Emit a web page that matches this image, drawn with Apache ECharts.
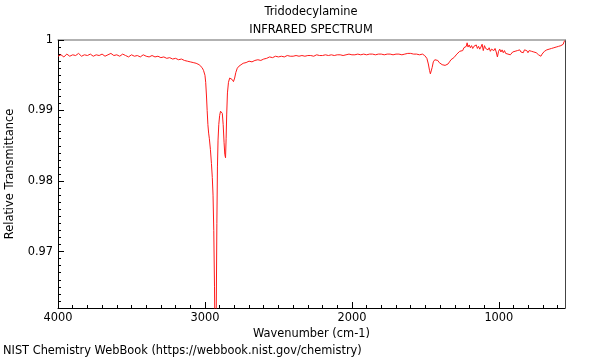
<!DOCTYPE html>
<html>
<head>
<meta charset="utf-8">
<script src="https://cdn.jsdelivr.net/npm/echarts@6/dist/echarts.min.js"></script>
<style>html,body{margin:0;padding:0;background:#fff;}#c{width:600px;height:360px;}</style>
</head>
<body>
<div id="c"></div>
<script>
// Wavenumbers (cm-1) and relative transmittance
var wavenumbers = [
4000,3980,3960,3940,3920,3900,3880,3860,3840,3820,3800,3780,3760,3740,3720,3700,3680,3660,3640,3620,
3600,3580,3560,3540,3520,3500,3480,3460,3440,3420,3400,3380,3360,3340,3320,3300,3280,3260,3240,3220,
3200,3180,3160,3140,3120,3100,3080,3060,3040,3030,3020,3010,3000,2995,2990,2985,2980,2975,2970,2963,
2956,2950,2945,2940,2935,2931,2927,2923,2919,2915,2911,2906,2900,2894,2888,2882,2876,2870,2865,2860,
2856,2852,2847,2840,2832,2824,2815,2806,2798,2790,2780,2768,2755,2740,2720,2700,2680,2660,2640,2620,
2600,2580,2560,2540,2520,2500,2480,2460,2440,2420,2400,2380,2360,2340,2320,2300,2280,2260,2240,2220,
2200,2180,2160,2140,2120,2100,2080,2060,2040,2020,2000,1980,1960,1940,1920,1900,1880,1860,1840,1820,
1800,1780,1760,1740,1720,1700,1680,1660,1640,1620,1600,1580,1560,1540,1520,1505,1490,1480,1472,1466,
1460,1454,1446,1436,1426,1416,1406,1396,1386,1376,1366,1356,1346,1336,1326,1316,1306,1296,1286,1276,
1266,1256,1246,1238,1230,1222,1216,1210,1202,1194,1186,1178,1170,1162,1154,1146,1138,1130,1122,1114,
1106,1098,1090,1082,1074,1066,1058,1050,1042,1034,1026,1018,1010,1002,994,986,978,970,962,954,
946,938,930,922,914,906,898,890,882,874,866,858,850,842,834,826,818,810,802,794,
786,778,770,762,754,746,738,730,722,714,706,698,690,682,674,666,658,650,642,634,
626,618,610,602,594,586,578,570,562,556,550
];
var transmittance = [
0.9977,0.9979,0.9976,0.9980,0.9977,0.9979,0.9978,0.9981,0.9977,0.9979,0.9978,0.9980,0.9977,0.9979,0.9978,0.9980,0.9977,0.9979,0.9981,0.9978,
0.9979,0.9977,0.9980,0.9978,0.9976,0.9979,0.9977,0.9978,0.9976,0.9979,0.9977,0.9976,0.9978,0.9976,0.9977,0.9975,0.9976,0.9974,0.9975,0.9973,
0.9974,0.9972,0.9973,0.9971,0.9970,0.9969,0.9968,0.9967,0.9965,0.9963,0.9961,0.9957,0.9950,0.9940,0.9922,0.9900,0.9880,0.9868,0.9860,0.9845,
0.9825,0.9805,0.9780,0.9730,0.9650,0.9560,0.9540,0.9620,0.9740,0.9820,0.9858,0.9880,0.9893,0.9899,0.9901,0.9896,0.9880,0.9855,0.9838,0.9833,
0.9860,0.9895,0.9925,0.9940,0.9946,0.9947,0.9944,0.9941,0.9946,0.9954,0.9960,0.9963,0.9965,0.9967,0.9968,0.9970,0.9969,0.9971,0.9972,0.9971,
0.9973,0.9974,0.9976,0.9975,0.9977,0.9976,0.9977,0.9976,0.9978,0.9977,0.9977,0.9978,0.9977,0.9978,0.9977,0.9978,0.9978,0.9977,0.9979,0.9978,
0.9978,0.9979,0.9978,0.9979,0.9978,0.9979,0.9979,0.9978,0.9979,0.9980,0.9979,0.9979,0.9980,0.9979,0.9980,0.9979,0.9980,0.9980,0.9979,0.9980,
0.9980,0.9979,0.9980,0.9980,0.9979,0.9980,0.9980,0.9979,0.9980,0.9981,0.9981,0.9980,0.9980,0.9979,0.9980,0.9978,0.9974,0.9966,0.9957,0.9952,
0.9953,0.9961,0.9969,0.9972,0.9973,0.9971,0.9968,0.9966,0.9965,0.9964,0.9964,0.9963,0.9966,0.9969,0.9972,0.9973,0.9975,0.9977,0.9980,0.9982,
0.9984,0.9986,0.9985,0.9989,0.9987,0.9991,0.9996,0.9990,0.9993,0.9989,0.9992,0.9988,0.9991,0.9989,0.9993,0.9988,0.9991,0.9987,0.9990,0.9994,
0.9985,0.9992,0.9988,0.9990,0.9986,0.9989,0.9984,0.9987,0.9989,0.9985,0.9988,0.9983,0.9976,0.9984,0.9987,0.9983,0.9986,0.9982,0.9985,0.9981,
0.9983,0.9980,0.9982,0.9979,0.9981,0.9983,0.9981,0.9984,0.9982,0.9985,0.9983,0.9986,0.9983,0.9985,0.9982,0.9986,0.9984,0.9985,0.9982,0.9985,
0.9983,0.9984,0.9982,0.9983,0.9981,0.9982,0.9980,0.9979,0.9978,0.9977,0.9980,0.9982,0.9984,0.9983,0.9986,0.9984,0.9987,0.9985,0.9988,0.9986,
0.9989,0.9987,0.9990,0.9988,0.9991,0.9989,0.9992,0.9990,0.9994,0.9998,0.9999
];
var xMajorTicks = [1000, 2000, 3000, 4000];
var xMinorTicks = [600,700,800,900,1100,1200,1300,1400,1500,1600,1700,1800,1900,2100,2200,2300,2400,2500,2600,2700,2800,2900,3100,3200,3300,3400,3500,3600,3700,3800,3900];
var yMajorTicks = [0.97, 0.98, 0.99, 1];
var yMinorTicks = [0.963,0.964,0.965,0.966,0.967,0.968,0.969,0.971,0.972,0.973,0.974,0.975,0.976,0.977,0.978,0.979,0.981,0.982,0.983,0.984,0.985,0.986,0.987,0.988,0.989,0.991,0.992,0.993,0.994,0.995,0.996,0.997,0.998,0.999];

var points = wavenumbers.map(function (w, i) { return [w, transmittance[i]]; });
var FONT = 'DejaVu Sans';
var FS = 11.4;
var X_MIN = 550, X_MAX = 4000, Y_MIN = 0.962, Y_MAX = 1;

var chart = echarts.init(document.getElementById('c'), null, {renderer: 'canvas'});
chart.setOption({
  animation: false,
  backgroundColor: '#ffffff',
  textStyle: {fontFamily: FONT},
  title: [
    {text: 'Tridodecylamine', left: 311, top: 7, padding: 0, textAlign: 'center',
     textStyle: {fontFamily: FONT, fontSize: FS, fontWeight: 'normal', color: '#000'}},
    {text: 'INFRARED SPECTRUM', left: 311, top: 25, padding: 0, textAlign: 'center',
     textStyle: {fontFamily: FONT, fontSize: FS, fontWeight: 'normal', color: '#000'}},
    {text: 'NIST Chemistry WebBook (https://webbook.nist.gov/chemistry)', left: 3, top: 346, padding: 0,
     textStyle: {fontFamily: FONT, fontSize: FS, fontWeight: 'normal', color: '#000'}}
  ],
  grid: {left: 58, right: 35, top: 40, bottom: 52, containLabel: false, outerBoundsMode: 'none'},
  xAxis: [
    {type: 'value', position: 'bottom', inverse: true, min: X_MIN, max: X_MAX,
     name: 'Wavenumber (cm-1)', nameLocation: 'middle', nameGap: 20,
     nameTextStyle: {fontFamily: FONT, fontSize: FS, color: '#000'},
     axisLine: {show: true, lineStyle: {color: '#000', width: 1}},
     axisTick: {show: true, inside: true, length: 6, customValues: xMajorTicks, lineStyle: {color: '#000'}},
     axisLabel: {show: true, customValues: xMajorTicks, margin: 5, fontFamily: FONT, fontSize: FS, color: '#000',
       formatter: function (v) { return String(Math.round(v)); }},
     splitLine: {show: false}},
    {type: 'value', position: 'bottom', inverse: true, min: X_MIN, max: X_MAX,
     axisLine: {show: false},
     axisTick: {show: true, inside: true, length: 3, customValues: xMinorTicks, lineStyle: {color: '#000'}},
     axisLabel: {show: false}, splitLine: {show: false}},
    {type: 'value', position: 'top', inverse: true, min: X_MIN, max: X_MAX,
     axisLine: {show: true, lineStyle: {color: '#999', width: 1.5}},
     axisTick: {show: false}, axisLabel: {show: false}, splitLine: {show: false}}
  ],
  yAxis: [
    {type: 'value', position: 'left', min: Y_MIN, max: Y_MAX,
     name: 'Relative Transmittance', nameLocation: 'middle', nameGap: 42,
     nameTextStyle: {fontFamily: FONT, fontSize: FS, color: '#000'},
     axisLine: {show: true, lineStyle: {color: '#000', width: 1}},
     axisTick: {show: true, inside: true, length: 6, customValues: yMajorTicks, lineStyle: {color: '#000'}},
     axisLabel: {show: true, customValues: yMajorTicks, margin: 5, fontFamily: FONT, fontSize: FS, color: '#000',
       formatter: function (v) { return Math.abs(v - 1) < 1e-9 ? '1' : v.toFixed(2); }},
     splitLine: {show: false}},
    {type: 'value', position: 'left', min: Y_MIN, max: Y_MAX,
     axisLine: {show: false},
     axisTick: {show: true, inside: true, length: 3, customValues: yMinorTicks, lineStyle: {color: '#000'}},
     axisLabel: {show: false}, splitLine: {show: false}},
    {type: 'value', position: 'right', min: Y_MIN, max: Y_MAX,
     axisLine: {show: true, lineStyle: {color: '#444', width: 1}},
     axisTick: {show: false}, axisLabel: {show: false}, splitLine: {show: false}}
  ],
  series: [{
    type: 'line', xAxisIndex: 0, yAxisIndex: 0, data: points,
    showSymbol: false, symbol: 'none', clip: true,
    lineStyle: {color: '#ff1a1a', width: 1}
  }]
});
</script>
</body>
</html>
